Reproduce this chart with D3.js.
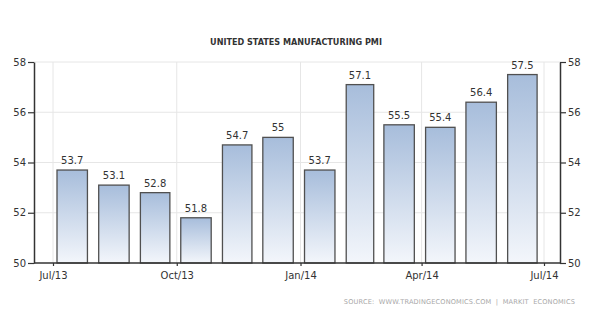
<!DOCTYPE html>
<html>
<head>
<meta charset="utf-8">
<script src="https://cdn.jsdelivr.net/npm/d3@7"></script>
<style>
  body { margin: 0; background: #fff; }
  svg { display: block; }
</style>
</head>
<body>
<svg id="chart" width="600" height="313"></svg>
<script>
// data: monthly values, Jul/13 .. Jun/14
var months = ['2013-07', '2013-08', '2013-09', '2013-10', '2013-11', '2013-12',
              '2014-01', '2014-02', '2014-03', '2014-04', '2014-05', '2014-06'];
var pmi = [53.7, 53.1, 52.8, 51.8, 54.7, 55, 53.7, 57.1, 55.5, 55.4, 56.4, 57.5];
var yTicks = [50, 52, 54, 56, 58];
var xTickDates = ['2013-07', '2013-10', '2014-01', '2014-04', '2014-07'];

var svg = d3.select('#chart');
var parse = d3.timeParse('%Y-%m');
var plotLeft = 34, plotRight = 560, plotTop = 62, plotBottom = 263;

var x = d3.scaleTime()
  .domain([parse('2013-07'), parse('2014-07')])
  .range([53, 544]);
var y = d3.scaleLinear().domain([50, 58]).range([plotBottom, plotTop]);

// gradient for the bars
var grad = svg.append('defs').append('linearGradient')
  .attr('id', 'barFill').attr('x1', 0).attr('y1', 0).attr('x2', 0).attr('y2', 1);
grad.append('stop').attr('offset', '0%').attr('stop-color', '#a7bddb');
grad.append('stop').attr('offset', '100%').attr('stop-color', '#f3f6fb');

// grid
svg.append('g').selectAll('line').data(yTicks.slice(1)).enter().append('line')
  .attr('x1', plotLeft).attr('x2', plotRight)
  .attr('y1', function(d) { return y(d); }).attr('y2', function(d) { return y(d); })
  .attr('stroke', '#e6e6e6').attr('stroke-width', 1);
svg.append('g').selectAll('line').data(xTickDates).enter().append('line')
  .attr('x1', function(d) { return x(parse(d)); }).attr('x2', function(d) { return x(parse(d)); })
  .attr('y1', plotTop).attr('y2', plotBottom)
  .attr('stroke', '#e6e6e6').attr('stroke-width', 1);

// bars
var data = months.map(function(m, i) { return { date: parse(m), value: pmi[i] }; });
function barW(d) { return (x(d3.timeMonth.offset(d.date, 1)) - x(d.date)) * 0.73; }

svg.append('g').selectAll('rect').data(data).enter().append('rect')
  .attr('x', function(d) { return x(d.date) + 4; })
  .attr('width', barW)
  .attr('y', function(d) { return y(d.value); })
  .attr('height', function(d) { return plotBottom - y(d.value); })
  .attr('fill', 'url(#barFill)')
  .attr('stroke', '#505050').attr('stroke-width', 1.3);

// value labels
svg.append('g').selectAll('text').data(data).enter().append('text')
  .attr('x', function(d) { return x(d.date) + 4 + barW(d) / 2; })
  .attr('y', function(d) { return y(d.value) - 6; })
  .attr('text-anchor', 'middle')
  .attr('font-family', 'DejaVu Sans, sans-serif').attr('font-size', 10)
  .attr('fill', '#333')
  .text(function(d) { return d.value; });

// axes
var axisStyle = function(g) {
  g.select('.domain').attr('stroke', '#333').attr('stroke-width', 1.5);
  g.selectAll('.tick line').attr('stroke', '#333').attr('stroke-width', 1.2);
  g.selectAll('.tick text').attr('fill', '#333')
    .attr('font-family', 'DejaVu Sans, sans-serif').attr('font-size', 10);
};

svg.append('g').attr('transform', 'translate(' + plotLeft + ',0)')
  .call(d3.axisLeft(y).tickValues(yTicks).tickSize(6).tickSizeOuter(0).tickPadding(2))
  .call(axisStyle);
svg.append('g').attr('transform', 'translate(' + plotRight + ',0)')
  .call(d3.axisRight(y).tickValues(yTicks).tickSize(6).tickSizeOuter(0).tickPadding(2))
  .call(axisStyle);

svg.append('line').attr('x1', plotLeft).attr('x2', plotRight)
  .attr('y1', plotBottom).attr('y2', plotBottom)
  .attr('stroke', '#333').attr('stroke-width', 1.5);
var xAxis = svg.append('g').attr('transform', 'translate(0,' + plotBottom + ')')
  .call(d3.axisBottom(x).tickValues(xTickDates.map(parse))
    .tickFormat(d3.timeFormat('%b/%y')).tickSize(3).tickSizeOuter(0).tickPadding(6))
  .call(axisStyle);
xAxis.select('.domain').remove();

// title
svg.append('text')
  .attr('x', 296).attr('y', 45)
  .attr('text-anchor', 'middle')
  .attr('font-family', 'DejaVu Sans Condensed, DejaVu Sans, sans-serif')
  .attr('font-weight', 'bold').attr('font-size', 9)
  .attr('fill', '#333')
  .text('UNITED STATES MANUFACTURING PMI');

// source
svg.append('text')
  .attr('x', 575).attr('y', 304)
  .attr('text-anchor', 'end')
  .attr('font-family', 'DejaVu Sans, sans-serif').attr('font-size', 6.6)
  .attr('fill', '#a8a8a8')
  .attr('letter-spacing', 0.15)
  .style('white-space', 'pre')
  .text('SOURCE:  WWW.TRADINGECONOMICS.COM  |  MARKIT  ECONOMICS');
</script>
</body>
</html>
